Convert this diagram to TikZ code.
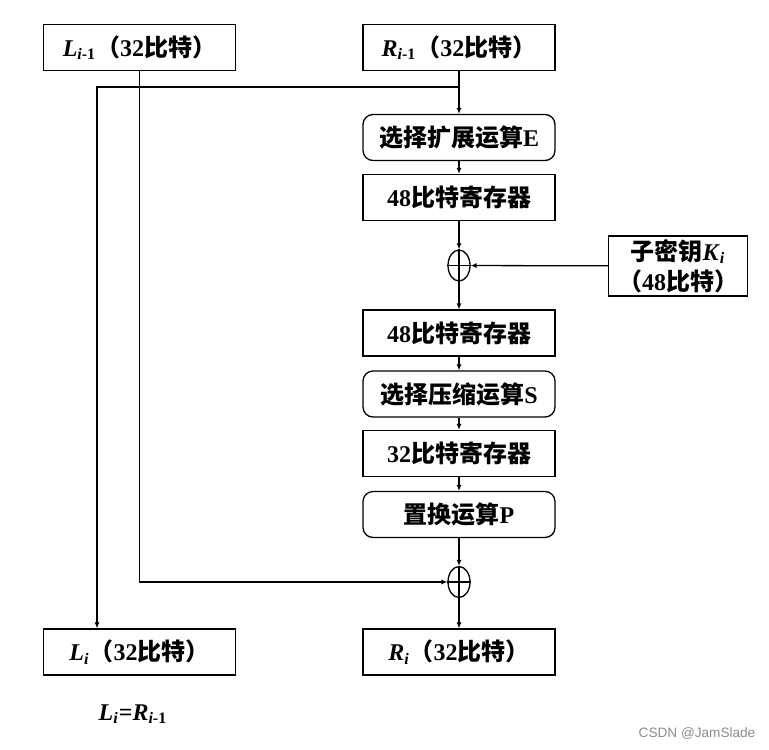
\documentclass[tikz,border=0pt]{standalone}
\usepackage{fontspec}
\setmainfont{Liberation Serif}
\newfontfamily\cjk{Noto Sans CJK SC}
\newfontfamily\wmfont{Liberation Sans}
\usetikzlibrary{arrows.meta,shapes.geometric}
\newcommand{\zh}[1]{{\cjk #1}}
\newcommand{\bi}[1]{\textbf{\textit{#1}}}

\tikzset{
  box/.style={draw, line width=0.65pt, minimum width=96pt, minimum height=23pt,
    inner sep=0pt, font=\fontsize{12}{13.5}\selectfont\bfseries},
  opbox/.style={box, rounded corners=5pt},
  keybox/.style={box, minimum width=69.5pt, minimum height=30pt, align=center,
    font=\fontsize{12}{14}\selectfont\bfseries},
  xor/.style={draw, ellipse, line width=0.65pt, minimum width=11pt, minimum height=15.5pt, inner sep=0pt},
  flow/.style={line width=0.65pt, -{Latex[length=3pt,width=2.6pt]}},
  wire/.style={line width=0.65pt}
}

\begin{document}
\begin{tikzpicture}[x=0.5pt,y=-0.5pt]
\useasboundingbox (0,0) rectangle (769,749);

% input halves
\node[box] (Lin) at (139.5,47.5) {\bi{L}\textsubscript{\bi{i}\textbf{-1}}\zh{（}32\zh{比特）}};
\node[box] (Rin) at (459,47.5) {\bi{R}\textsubscript{\bi{i}\textbf{-1}}\zh{（}32\zh{比特）}};

% round function f
\node[opbox] (E) at (459,137.5) {\zh{选择扩展运算}E};
\node[box] (reg1) at (459,197.5) {48\zh{比特寄存器}};
\node[xor] (x1) at (459,265.5) {};
\node[keybox] (key) at (678,266) {\zh{子密钥}\bi{K}\textsubscript{\bi{i}}\\[1pt]\zh{（}48\zh{比特）}};
\node[box] (reg2) at (459,333) {48\zh{比特寄存器}};
\node[opbox] (S) at (459,394) {\zh{选择压缩运算}S};
\node[box] (reg3) at (459,453.5) {32\zh{比特寄存器}};
\node[opbox] (P) at (459,514.5) {\zh{置换运算}P};
\node[xor] (x2) at (459,582) {};

% output halves
\node[box] (Lout) at (139.5,652) {\bi{L}\textsubscript{\bi{i}}\zh{（}32\zh{比特）}};
\node[box] (Rout) at (459,652) {\bi{R}\textsubscript{\bi{i}}\zh{（}32\zh{比特）}};
\node[font=\fontsize{12}{13.5}\selectfont\bfseries] (eq) at (133,714)
  {\bi{L}\textsubscript{\bi{i}}=\bi{R}\textsubscript{\bi{i}\textbf{-1}}};

\node[font=\wmfont\fontsize{6.8}{8}\selectfont, text=black!45] (wm) at (697,733) {CSDN @JamSlade};

% xor crosses
\foreach \x in {x1,x2}
  \draw[wire] (\x.north) -- (\x.south) (\x.west) -- (\x.east);

\coordinate (br) at (459,87);
\coordinate (lfork) at (97,87);

\draw[flow] (Rin) -- (E);
\draw[flow] (br) -- (lfork) -- (lfork |- Lout.north);
\draw[flow] (E) -- (reg1);
\draw[flow] (reg1) -- (x1);
\draw[flow] (key) -- (x1);
\draw[flow] (x1) -- (reg2);
\draw[flow] (reg2) -- (S);
\draw[flow] (S) -- (reg3);
\draw[flow] (reg3) -- (P);
\draw[flow] (P) -- (x2);
\draw[flow] (Lin.south) -- (Lin.south |- x2) -- (x2.west);
\draw[flow] (x2) -- (Rout);

\end{tikzpicture}
\end{document}
